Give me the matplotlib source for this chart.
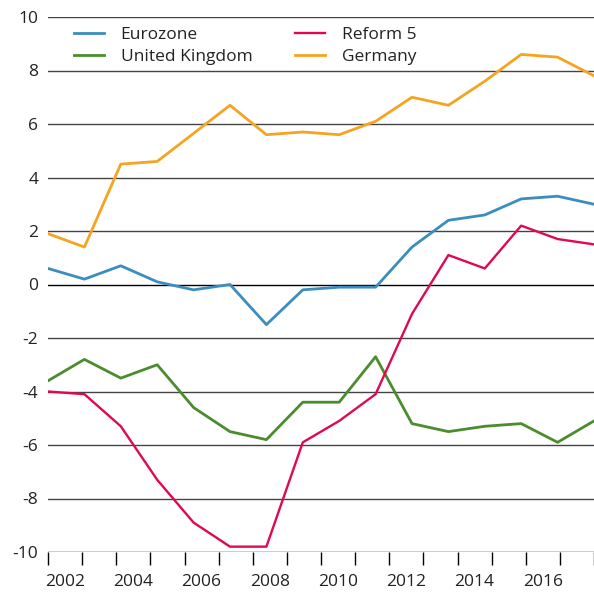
import numpy as np
import matplotlib
matplotlib.use('Agg')
import matplotlib.pyplot as plt

plt.rcParams['font.family'] = ['Open Sans', 'DejaVu Sans']

years = list(range(2002, 2018))
eurozone = [0.6, 0.2, 0.7, 0.1, -0.2, 0.0, -1.5, -0.2, -0.1, -0.1, 1.4, 2.4, 2.6, 3.2, 3.3, 3.0]
reform5 = [-4.0, -4.1, -5.3, -7.3, -8.9, -9.8, -9.8, -5.9, -5.1, -4.1, -1.1, 1.1, 0.6, 2.2, 1.7, 1.5]
uk = [-3.6, -2.8, -3.5, -3.0, -4.6, -5.5, -5.8, -4.4, -4.4, -2.7, -5.2, -5.5, -5.3, -5.2, -5.9, -5.1]
germany = [1.9, 1.4, 4.5, 4.6, 5.65, 6.7, 5.6, 5.7, 5.6, 6.1, 7.0, 6.7, 7.6, 8.6, 8.5, 7.8]
yticks = list(range(-10, 11, 2))

fig = plt.figure(figsize=(5.94, 5.92), dpi=100)
ax = fig.add_axes([48/594, 40/592, 546/594, 535/592])

for y in yticks:
    ax.axhline(y, color='black' if y in (0, -10) else '#444444', lw=1.0, zorder=1)

l1, = ax.plot(years, eurozone, color='#3b8dc0', lw=2.0, label='Eurozone', zorder=3)
l3, = ax.plot(years, uk, color='#4a8c2e', lw=2.0, label='United Kingdom', zorder=3)
l2, = ax.plot(years, reform5, color='#e0084e', lw=1.7, label='Reform 5', zorder=3)
l4, = ax.plot(years, germany, color='#f5a422', lw=2.0, label='Germany', zorder=3)

x0, x1 = years[0], years[-1]
n = len(years)
ax.set_xlim(x0, x1)
ax.set_ylim(-10, 10)

# category-style axis: band edges as ticks, even years labelled in the band centre
step = (x1 - x0) / n
edges = [x0 + i * step for i in range(n + 1)]
ax.set_xticks(edges)
ax.set_xticklabels([])
centres = [x0 + (i + 0.5) * step for i in range(n)]
ax.set_xticks([c for c, yr in zip(centres, years) if yr % 2 == 0], minor=True)
ax.set_xticklabels([str(yr) for yr in years if yr % 2 == 0], minor=True)
ax.tick_params(axis='x', which='major', length=9.5, width=1, color='black', direction='out')
ax.tick_params(axis='x', which='minor', length=0, pad=16, labelsize=12.5, labelcolor='#222222')

ax.set_yticks(yticks)
ax.set_yticklabels([str(v) for v in yticks])
ax.tick_params(axis='y', length=0, pad=7, labelsize=12.5, labelcolor='#222222')

for s in ['top', 'right', 'left', 'bottom']:
    ax.spines[s].set_visible(False)

ax.legend(handles=[l1, l3, l2, l4], ncol=2, loc='upper left',
          bbox_to_anchor=(65/594, 1 - 18/592), bbox_transform=fig.transFigure,
          frameon=False, fontsize=12.5, handlelength=1.75, handletextpad=0.95,
          columnspacing=2.45, labelspacing=0.35, borderpad=0, labelcolor='#222222')

fig.savefig('out.png', dpi=100)
